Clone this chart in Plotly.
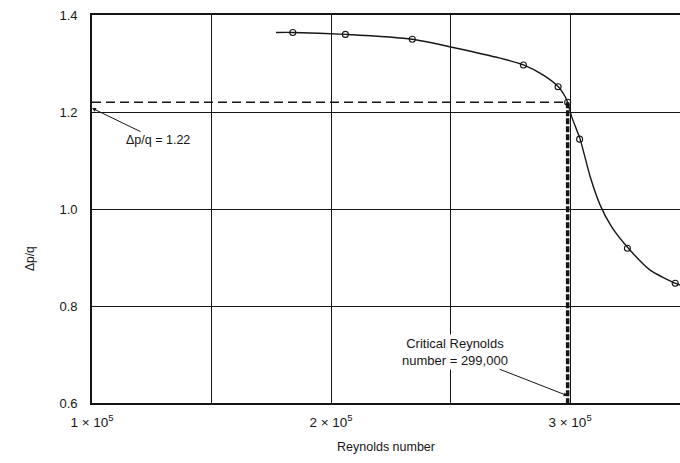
import plotly.graph_objects as go

# ---- data ----
re_points = [184000, 206000, 234000, 280500, 295000, 299000, 304000, 324000, 344000]
dpq_points = [1.364, 1.360, 1.350, 1.297, 1.252, 1.22, 1.144, 0.919, 0.847]

re_curve = [177000, 184000, 206000, 234000, 270700, 280500, 288800, 295100, 297900,
            299000, 300700, 304200, 308400, 312600, 317400, 324400, 333500, 343900, 347000]
dpq_curve = [1.364, 1.364, 1.360, 1.350, 1.311, 1.297, 1.276, 1.252, 1.232,
             1.22, 1.19, 1.144, 1.067, 1.008, 0.963, 0.919, 0.874, 0.847, 0.842]

critical_re = 299000
critical_dpq = 1.22

x_tickvals = [100000, 200000, 300000]
x_ticktext = ["1 × 10<sup>5</sup>", "2 × 10<sup>5</sup>", "3 × 10<sup>5</sup>"]
x_half_grid = [150000, 250000, 350000]
y_tickvals = [0.6, 0.8, 1.0, 1.2, 1.4]

INK = "#161616"
FONT = "Liberation Sans, Arial, sans-serif"

fig = go.Figure()

# reference dashed lines
fig.add_trace(go.Scatter(x=[x_tickvals[0], critical_re], y=[critical_dpq, critical_dpq],
                         mode="lines", line=dict(color=INK, width=1.6, dash="9px,5px"),
                         hoverinfo="skip"))
fig.add_trace(go.Scatter(x=[critical_re, critical_re], y=[critical_dpq, y_tickvals[0]],
                         mode="lines", line=dict(color=INK, width=3.5, dash="6px,2px"),
                         hoverinfo="skip"))

# faired curve
fig.add_trace(go.Scatter(x=re_curve, y=dpq_curve, mode="lines",
                         line=dict(color=INK, width=1.4, shape="spline", smoothing=0.6)))
# measured points
fig.add_trace(go.Scatter(x=re_points, y=dpq_points, mode="markers",
                         marker=dict(symbol="circle-open", size=6, color=INK,
                                     line=dict(width=1.1, color=INK))))

fig.update_layout(
    width=680, height=463,
    margin=dict(l=92, r=0, t=15, b=60),
    plot_bgcolor="white", paper_bgcolor="white",
    showlegend=False,
    font=dict(family=FONT, size=13, color=INK),
)

fig.update_xaxes(
    range=[100000, 346000],
    tickvals=x_tickvals, ticktext=x_ticktext,
    showgrid=True, gridcolor=INK, gridwidth=1.3,
    minor=dict(tickmode="array", tickvals=x_half_grid, showgrid=True,
               gridcolor=INK, gridwidth=1.3, ticks=""),
    showline=True, linecolor=INK, linewidth=1.6, mirror=True,
    zeroline=False, ticks="", ticklabelstandoff=6,
    tickfont=dict(size=13.5),
    title=dict(text="Reynolds number", font=dict(size=12.5), standoff=13),
)
fig.update_yaxes(
    range=[0.6, 1.4],
    tickvals=y_tickvals, tickformat=".1f",
    showgrid=True, gridcolor=INK, gridwidth=1.3,
    showline=True, linecolor=INK, linewidth=1.6,
    zeroline=False, ticks="", ticklabelstandoff=10,
    tickfont=dict(size=13),
)

# y-axis title (rotated)
fig.add_annotation(text="Δp/q", xref="paper", yref="paper",
                   x=(30 - 92) / 588, y=(403 - 259) / 388, textangle=-90,
                   showarrow=False, font=dict(size=12), xanchor="center", yanchor="middle")

# Δp/q = 1.22 label
fig.add_annotation(text="Δp/q = 1.22", x=x_tickvals[0], y=critical_dpq - 0.012,
                   xref="x", yref="y", ax=66, ay=32, showarrow=True,
                   arrowhead=2, arrowsize=0.8, arrowwidth=1, arrowcolor=INK,
                   font=dict(size=12.5), bgcolor="white")

# critical Reynolds number label
fig.add_annotation(text="Critical Reynolds<br>number = 299,000", x=critical_re, y=0.615,
                   xref="x", yref="y", ax=-113, ay=-44, showarrow=True,
                   arrowhead=2, arrowsize=0.8, arrowwidth=1, arrowcolor=INK,
                   font=dict(size=13), bgcolor="white", align="center")

fig.write_html("out.html")
